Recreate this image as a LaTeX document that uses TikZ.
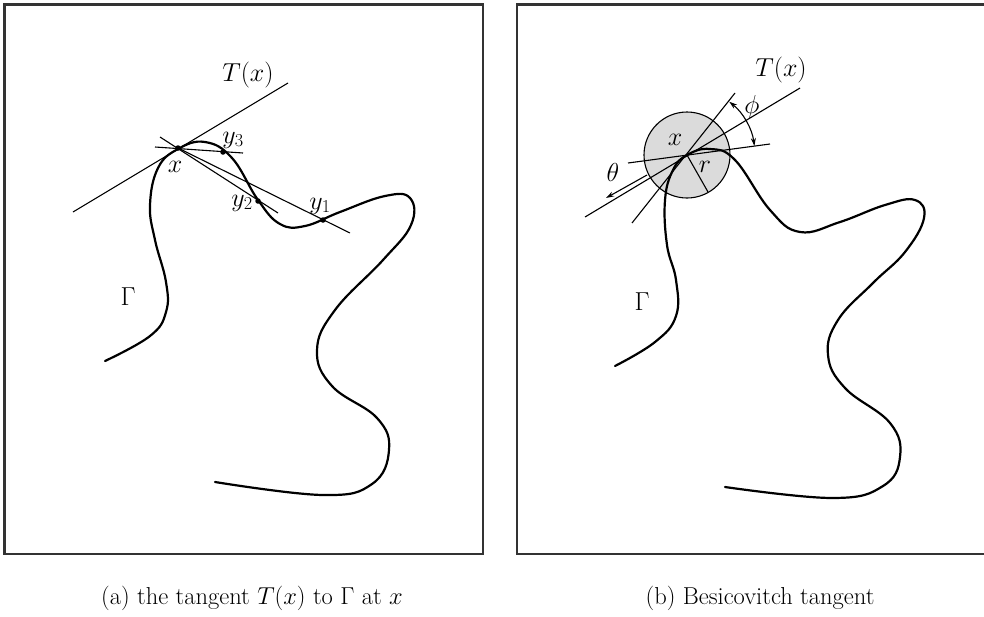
\RequirePackage{fix-cm}
\documentclass[tikz,border=0pt]{standalone}
\usetikzlibrary{arrows.meta,calc}
\begin{document}
\begin{tikzpicture}[x=1pt,y=1pt,
  frame/.style={line width=2.4pt, draw=black!80},
  curve/.style={line width=2.2pt, line cap=round, line join=round},
  thin/.style={line width=1.1pt},
  lbl/.style={font=\fontsize{26}{30}\selectfont, inner sep=0pt},
  captxt/.style={font=\fontsize{24.5}{28}\selectfont, inner sep=0pt},
  dotp/.style={circle, fill=black, inner sep=0pt, minimum size=5.5pt},
  arr/.style={thin, -{Stealth[length=8pt,width=5pt]}},
  darr/.style={thin, {Stealth[length=8pt,width=5pt]}-{Stealth[length=8pt,width=5pt]}}]
\useasboundingbox (0,0) rectangle (984,-616);
% frames
\draw[frame] (4.5,-4.5) rectangle (483,-554);
\draw[frame] (990,-4.5) -- (517,-4.5) -- (517,-554) -- (990,-554);

% ---------------- left panel ----------------
\draw[curve] plot[smooth, tension=0.7] coordinates {
 (105,-361) (150,-336) (166,-312) (166,-282) (155,-240) (150,-205) (158,-168) (178,-149)
 (205,-142) (232,-158) (258,-200) (280,-224) (305,-226) (340,-212) (385,-196) (410,-198)
 (411,-225) (383,-260) (335,-310) (317,-350) (332,-386) (377,-418) (389,-450) (372,-484)
 (323,-495) (215,-482)};
\coordinate (xa) at (178,-148);
\coordinate (Ta1) at (73,-212);
\coordinate (Ta2) at (288,-83);
\coordinate (L3a) at (155,-147);
\coordinate (L3b) at (243,-153);
\coordinate (L2a) at (160,-137);
\coordinate (L2b) at (278,-213);
\coordinate (L1b) at (350,-233);
\draw[thin] (Ta1) -- (Ta2);
\draw[thin] (L3a) -- (L3b);
\draw[thin] (L2a) -- (L2b);
\draw[thin] (xa) -- (L1b);
\node[dotp] (dxa) at (xa) {};
\node[dotp] (dy3) at (223,-152) {};
\node[dotp] (dy2) at (258,-201) {};
\node[dotp] (dy1) at (323,-220) {};
\node[lbl] (lTa) at (248,-75) {$T(x)$};
\node[lbl] (lxa) at (175,-167) {$x$};
\node[lbl] (ly3) at (233,-140) {$y_3$};
\node[lbl] (ly2) at (242,-203) {$y_2$};
\node[lbl] (ly1) at (320,-206) {$y_1$};
\node[lbl] (lGa) at (128,-297) {$\Gamma$};

% ---------------- right panel ----------------
\coordinate (xb) at (687,-155);
\draw[thin, fill=black!14] (xb) circle[radius=43];
\draw[curve] plot[smooth, tension=0.7] coordinates {
 (615,-366) (655,-342) (676,-316) (676,-280) (667,-245) (665,-200) (673,-170) (687,-155)
 (710,-149) (735,-160) (770,-210) (800,-232) (840,-222) (885,-205) (915,-200) (924,-218)
 (905,-252) (873,-283) (838,-320) (828,-355) (845,-388) (890,-423) (900,-457) (883,-486)
 (833,-498) (725,-487)};
\coordinate (Tb1) at (585,-217);
\coordinate (Tb2) at (800,-88);
\coordinate (Hb1) at (628,-163);
\coordinate (Hb2) at (770,-144);
\coordinate (Sb1) at (632,-223);
\coordinate (Sb2) at (735,-93);
\coordinate (rb) at (708,-192);
\coordinate (thA) at (647,-175);
\coordinate (thB) at (606,-198);
\coordinate (phA) at ($(xb)+(7.6:68)$);
\draw[thin] (Tb1) -- (Tb2);
\draw[thin] (Hb1) -- (Hb2);
\draw[thin] (Sb1) -- (Sb2);
\draw[thin] (xb) -- (rb);
\draw[arr] (thA) -- (thB);
\draw[darr] (phA) arc[start angle=7.6, end angle=51.6, radius=68];
\node[lbl] (lTb) at (781,-70) {$T(x)$};
\node[lbl] (lxb) at (675,-140) {$x$};
\node[lbl] (lr) at (705,-167) {$r$};
\node[lbl] (lth) at (613,-172) {$\theta$};
\node[lbl] (lph) at (752,-107) {$\phi$};
\node[lbl] (lGb) at (642,-302) {$\Gamma$};

% captions
\node[captxt] (capa) at (252,-598) {(a) the tangent $T(x)$ to $\Gamma$ at $x$};
\node[captxt] (capb) at (760,-598) {(b) Besicovitch tangent};
\end{tikzpicture}
\end{document}
